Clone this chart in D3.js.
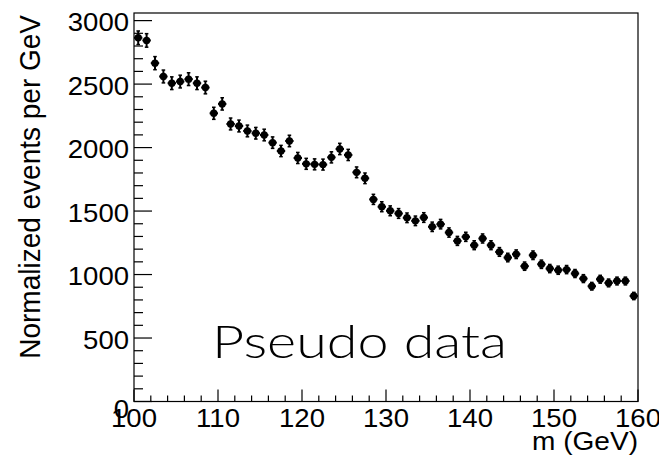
<!DOCTYPE html>
<html><head><meta charset="utf-8">
<script src="https://cdn.jsdelivr.net/npm/d3@7"></script>
<style>html,body{margin:0;padding:0;background:#fff;}svg{display:block;}</style>
</head><body>
<svg id="chart" width="659" height="463"></svg>
<script>
const binLow = d3.range(100, 160, 1);
const values = [2865,2844,2665,2560,2507,2520,2539,2507,2473,2270,
  2344,2186,2170,2131,2113,2099,2039,1973,2052,1918,
  1872,1868,1866,1923,1989,1942,1805,1758,1592,1534,
  1502,1481,1447,1423,1449,1376,1397,1331,1265,1297,
  1231,1284,1231,1178,1134,1160,1066,1152,1081,1047,
  1034,1039,1008,968,908,963,934,949,949,831];
const errors = [53.5,53.3,51.6,50.6,50.1,50.2,50.4,50.1,49.7,47.6,
  48.4,46.8,46.6,46.2,46.0,45.8,45.2,44.4,45.3,43.8,
  43.3,43.2,43.2,43.9,44.6,44.1,42.5,41.9,39.9,39.2,
  38.8,38.5,38.0,37.7,38.1,37.1,37.4,36.5,35.6,36.0,
  35.1,35.8,35.1,34.3,33.7,34.1,32.6,33.9,32.9,32.4,
  32.2,32.2,31.7,31.1,30.1,31.0,30.6,30.8,30.8,28.8];
const xTicks = [100,110,120,130,140,150,160];
const yTicks = [0,500,1000,1500,2000,2500,3000];
const xTitle = "m (GeV)";
const yTitle = "Normalized events per GeV";
const annotation = "Pseudo data";

const L = 134, R = 638, T = 13, B = 401.5;
const svg = d3.select("#chart");
const x = d3.scaleLinear().domain([100,160]).range([L,R]);
const y = d3.scaleLinear().domain([0,3060]).range([B,T]);
const font = "'Liberation Sans', Arial, sans-serif";
const SX = 1.08;

// frame
svg.append("rect").attr("x",L).attr("y",T).attr("width",R-L).attr("height",B-T)
  .attr("fill","none").attr("stroke","#000").attr("stroke-width",1.2);

// y axis ticks
const yMinor = d3.range(0, 3001, 100);
svg.append("g").selectAll("line").data(yMinor).join("line")
  .attr("x1",L).attr("x2",d=> L + (d%500===0?18:9))
  .attr("y1",d=>y(d)).attr("y2",d=>y(d))
  .attr("stroke","#000").attr("stroke-width",1.2);
svg.append("g").selectAll("text").data(yTicks).join("text")
  .attr("transform",d=>`translate(${L-5},${d===0?418:y(d)+10.5}) scale(${SX},1)`)
  .attr("text-anchor","end").attr("font-family",font).attr("font-size",25.5)
  .text(d=>d);

// x axis ticks
const xMinor = d3.range(100, 161, 2);
svg.append("g").selectAll("line").data(xMinor).join("line")
  .attr("x1",d=>x(d)).attr("x2",d=>x(d))
  .attr("y1",B).attr("y2",d=> B - ((d-100)%10===0?12:6))
  .attr("stroke","#000").attr("stroke-width",1.2);
svg.append("g").selectAll("text").data(xTicks).join("text")
  .attr("transform",d=>`translate(${x(d)},427.3) scale(1.04,1)`)
  .attr("text-anchor","middle").attr("font-family",font).attr("font-size",26.5)
  .text(d=>d);

// axis titles
svg.append("text").attr("transform",`translate(${R},450) scale(1.1,1)`).attr("text-anchor","end")
  .attr("font-family",font).attr("font-size",25.5).text(xTitle);
svg.append("text").attr("transform",`translate(40,15) rotate(-90) scale(1,1.08)`)
  .attr("text-anchor","end").attr("font-family",font).attr("font-size",28).text(yTitle);

// data points
const pts = svg.append("g");
const hw = 0.5;
binLow.forEach((lo,i)=>{
  const cx = x(lo+hw), cy = y(values[i]);
  const y1 = y(values[i]+errors[i]), y2 = y(values[i]-errors[i]);
  const g = pts.append("g").attr("stroke","#000").attr("stroke-width",2);
  g.append("line").attr("x1",x(lo)).attr("x2",x(lo+1)).attr("y1",cy).attr("y2",cy);
  g.append("line").attr("x1",cx).attr("x2",cx).attr("y1",y1).attr("y2",y2);
  g.append("line").attr("x1",cx-1.8).attr("x2",cx+1.8).attr("y1",y1).attr("y2",y1).attr("stroke-width",1.5);
  g.append("line").attr("x1",cx-1.8).attr("x2",cx+1.8).attr("y1",y2).attr("y2",y2).attr("stroke-width",1.5);
  pts.append("circle").attr("cx",cx).attr("cy",cy).attr("r",3.7).attr("fill","#000");
});

// annotation
svg.append("text").attr("x",212).attr("y",358)
  .attr("font-family","Lato, 'Open Sans', sans-serif").attr("font-weight",300)
  .attr("font-size",46).attr("textLength",295).attr("lengthAdjust","spacingAndGlyphs")
  .text(annotation);
</script>
</body></html>
